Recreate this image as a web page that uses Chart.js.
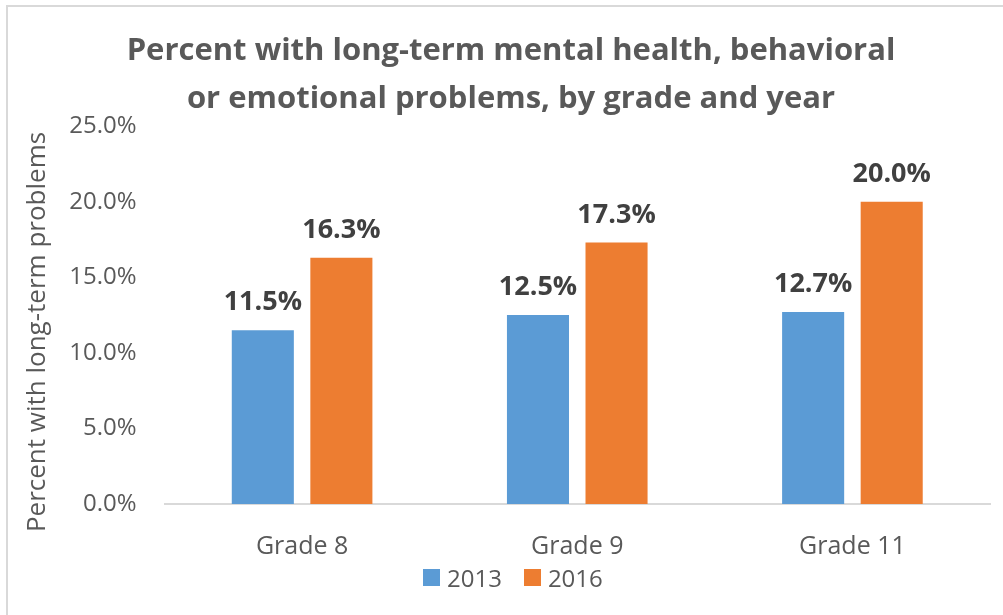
<!DOCTYPE html>
<html>
<head>
<meta charset="utf-8">
<script src="https://cdn.jsdelivr.net/npm/chart.js@4/dist/chart.umd.min.js"></script>
<style>
	html, body { margin: 0; padding: 0; background: #fff; overflow: hidden; }
	#wrap { position: relative; width: 1003px; height: 615px; overflow: hidden; }
	#frame { position: absolute; left: 6px; top: 5px; width: 1020px; height: 700px; border: 2px solid #d9d9d9; box-sizing: border-box; }
	#chart { position: absolute; left: 0; top: 0; }
	#legend { position: absolute; left: 423px; top: 562px; height: 30px; display: flex; align-items: center;
		font: 24px 'Open Sans', sans-serif; color: #595959; }
	#legend .box { width: 17px; height: 17px; margin-right: 7px; }
	#legend .txt { margin-right: 22px; }
</style>
</head>
<body>
<div id="wrap">
	<div id="frame"></div>
	<canvas id="chart" width="1003" height="615"></canvas>
	<div id="legend"></div>
</div>
<script>
// dados
const grades = ['Grade 8', 'Grade 9', 'Grade 11'];
const series2013 = [11.5, 12.5, 12.7];
const series2016 = [16.3, 17.3, 20.0];
const yearLabels = ['2013', '2016'];
const yMax = 25;
const yStep = 5;

const FONT = "'Open Sans', sans-serif";
const GRAY = '#595959';
const COLORS = ['#5b9bd5', '#ed7d31'];

function pct(v){ return v.toFixed(1) + '%'; }

// rótulos em cima das barras
const barLabels = {
	id: 'barLabels',
	afterDatasetsDraw(chart){
		const ctx = chart.ctx;
		ctx.save();
		ctx.font = "bold 27px " + FONT;
		ctx.fillStyle = '#404040';
		ctx.textAlign = 'center';
		ctx.textBaseline = 'alphabetic';
		chart.data.datasets.forEach((ds, i)=>{
			const meta = chart.getDatasetMeta(i);
			meta.data.forEach((bar, j)=>{
				ctx.fillText(pct(ds.data[j]), bar.x, bar.y - 20);
			});
		});
		ctx.restore();
	}
};

const chart = new Chart(document.getElementById('chart'), {
	type: 'bar',
	data: {
		labels: grades,
		datasets: [
			{ label: yearLabels[0], data: series2013, backgroundColor: COLORS[0] },
			{ label: yearLabels[1], data: series2016, backgroundColor: COLORS[1] }
		]
	},
	options: {
		responsive: false,
		animation: false,
		devicePixelRatio: 1,
		categoryPercentage: 0.571,
		barPercentage: 0.79,
		layout: { padding: { left: 32, right: 13, top: 0, bottom: 26 } },
		plugins: {
			title: {
				display: true,
				text: ['Percent with long-term mental health, behavioral', 'or emotional problems, by grade and year'],
				color: GRAY,
				font: { family: FONT, size: 31, weight: 'bold', lineHeight: 1.52 },
				padding: { top: 28, bottom: 4 }
			},
			legend: { display: false },
			tooltip: { enabled: false }
		},
		scales: {
			x: {
				grid: { display: false, drawTicks: false },
				border: { color: '#d9d9d9', width: 2 },
				ticks: { color: GRAY, font: { family: FONT, size: 25, lineHeight: 1.0 }, padding: 30 }
			},
			y: {
				min: 0,
				max: yMax,
				grid: { display: false, drawTicks: false },
				border: { display: false },
				ticks: {
					stepSize: yStep,
					color: GRAY,
					font: { family: FONT, size: 24 },
					padding: 28,
					callback: (v)=>pct(v)
				},
				title: {
					display: true,
					// espaços no fim empurram o texto um pouco para baixo, como no original
					text: 'Percent with long-term problems\u00a0\u00a0\u00a0\u00a0\u00a0',
					color: GRAY,
					font: { family: FONT, size: 26 },
					padding: { top: -10, bottom: -12 }
				}
			}
		}
	},
	plugins: [barLabels]
});

// legenda em HTML
const legendEl = document.getElementById('legend');
chart.data.datasets.forEach((ds)=>{
	const box = document.createElement('span');
	box.className = 'box';
	box.style.background = ds.backgroundColor;
	const txt = document.createElement('span');
	txt.className = 'txt';
	txt.textContent = ds.label;
	legendEl.appendChild(box);
	legendEl.appendChild(txt);
});
</script>
</body>
</html>
